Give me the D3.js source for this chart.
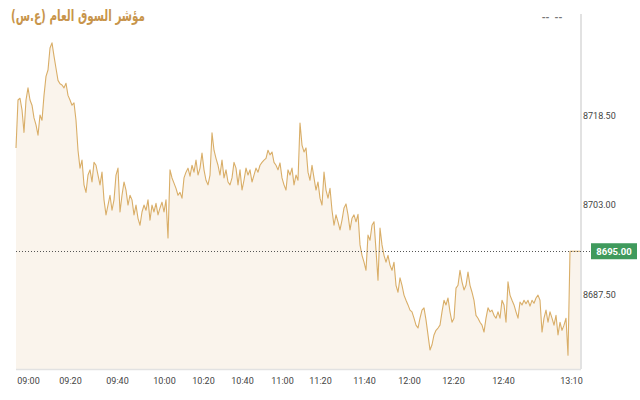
<!DOCTYPE html>
<html>
<head>
<meta charset="utf-8">
<script src="https://cdn.jsdelivr.net/npm/d3@7"></script>
<style>
  html, body { margin: 0; padding: 0; background: #ffffff; }
  svg { display: block; }
</style>
</head>
<body>
<svg id="chart" width="640" height="400"></svg>
<script>
// ---- data ----
const title = "مؤشر السوق العام (ع.س)";
const lastValue = 8695.00;
const yTickValues = [8687.5, 8703.0, 8718.5];
const xTickLabels = ["09:00","09:20","09:40","10:00","10:20","10:40","11:00","11:20","11:40","12:00","12:20","12:40","13:10"];
const xTickIndex = [6, 27, 50.5, 74, 93.5, 113, 133, 152, 174, 196.5, 218.5, 243.5, 277.5];
const indexValues = [
  8712.9,8721.2,8721.5,8719.5,8715.6,8721.2,8723.3,8721.2,8720.3,8718.1,
  8716.9,8715.1,8718.6,8717.7,8722.0,8725.3,8726.4,8730.2,8731.1,8728.8,
  8726.7,8724.6,8724.0,8723.8,8723.3,8724.1,8722.0,8721.2,8720.3,8720.7,
  8717.7,8712.5,8709.4,8710.8,8706.5,8705.2,8708.2,8709.1,8707.0,8710.4,
  8709.9,8708.2,8706.5,8708.7,8703.9,8701.3,8703.0,8704.7,8702.1,8703.9,
  8708.2,8709.4,8701.8,8704.7,8707.0,8705.6,8703.0,8704.7,8703.9,8701.3,
  8703.0,8700.7,8699.5,8701.8,8703.0,8702.1,8703.9,8700.4,8703.0,8701.8,
  8703.3,8701.3,8702.5,8703.5,8701.8,8703.9,8697.3,8709.1,8707.7,8706.8,
  8705.9,8704.7,8705.2,8704.2,8707.7,8708.7,8709.4,8708.0,8709.9,8708.7,
  8710.8,8708.2,8709.4,8712.0,8709.1,8707.3,8706.5,8708.2,8715.5,8712.5,
  8711.1,8709.9,8708.2,8710.8,8707.7,8709.1,8707.0,8706.5,8707.7,8710.4,
  8709.4,8706.5,8709.1,8705.6,8707.3,8709.4,8708.2,8709.1,8707.0,8708.2,
  8709.4,8708.7,8709.9,8710.4,8710.8,8711.1,8712.5,8711.7,8712.2,8710.4,
  8709.9,8709.1,8710.3,8707.7,8706.5,8705.6,8709.1,8708.2,8709.4,8706.5,
  8708.2,8707.3,8717.2,8713.4,8712.2,8712.9,8708.7,8707.3,8709.9,8707.7,
  8705.6,8707.0,8704.2,8703.0,8708.7,8705.6,8704.2,8705.9,8702.1,8699.5,
  8701.3,8700.1,8698.7,8700.4,8702.5,8703.2,8701.3,8698.7,8700.7,8701.3,
  8700.1,8701.4,8696.1,8694.3,8693.1,8691.7,8697.8,8696.9,8699.5,8700.1,
  8695.2,8690.0,8699.0,8696.1,8694.3,8693.1,8694.3,8692.6,8691.7,8693.1,
  8689.1,8687.9,8690.4,8689.1,8687.4,8686.5,8685.7,8684.8,8684.5,8683.4,
  8682.2,8681.7,8683.4,8684.8,8685.2,8683.1,8680.5,8677.9,8678.8,8680.5,
  8681.3,8681.7,8682.2,8684.5,8686.5,8685.7,8686.9,8684.5,8682.7,8683.4,
  8688.6,8689.1,8691.7,8689.7,8688.3,8689.1,8691.4,8689.1,8687.9,8686.5,
  8683.9,8683.4,8682.7,8682.2,8681.0,8683.4,8685.2,8684.5,8684.8,8683.9,
  8683.4,8684.5,8683.4,8686.5,8685.7,8682.7,8689.7,8687.4,8686.5,8685.7,
  8684.5,8683.4,8686.2,8685.7,8686.5,8685.9,8686.5,8685.5,8686.5,8686.0,
  8686.9,8687.4,8686.5,8681.0,8683.4,8684.8,8682.7,8684.5,8683.4,8682.2,
  8683.9,8680.5,8682.7,8681.3,8682.2,8683.4,8677.0,8695.0,8695.0,8695.0,
  8695.0,8695.0,8695.0
];

// ---- layout ----
const svg = d3.select("#chart");
const plot = { left: 16, right: 581, top: 14, bottom: 369 };

const x = d3.scaleLinear()
  .domain([0, indexValues.length - 1])
  .range([plot.left, plot.right - 1]);
const y = d3.scaleLinear()
  .domain([8674.6, 8736.1])
  .range([plot.bottom, plot.top]);

// area fill
const area = d3.area()
  .x((d, i) => x(i))
  .y0(plot.bottom)
  .y1(d => y(d));
svg.append("path")
  .datum(indexValues)
  .attr("d", area)
  .attr("fill", "#faf4ec");

// line
const line = d3.line()
  .x((d, i) => x(i))
  .y(d => y(d));
svg.append("path")
  .datum(indexValues)
  .attr("d", line)
  .attr("fill", "none")
  .attr("stroke", "#d9ae68")
  .attr("stroke-width", 1.1)
  .attr("stroke-linejoin", "round");

// frame lines
svg.append("line")
  .attr("x1", plot.right).attr("x2", plot.right)
  .attr("y1", plot.top).attr("y2", plot.bottom)
  .attr("stroke", "#cfcfcf").attr("stroke-width", 1.2);
svg.append("line")
  .attr("x1", plot.left).attr("x2", plot.right)
  .attr("y1", plot.bottom + 0.5).attr("y2", plot.bottom + 0.5)
  .attr("stroke", "#e2e2e2").attr("stroke-width", 1.5);

// last value dotted line
svg.append("line")
  .attr("x1", plot.left).attr("x2", 591)
  .attr("y1", Math.round(y(lastValue)) + 0.5).attr("y2", Math.round(y(lastValue)) + 0.5)
  .attr("stroke", "#555")
  .attr("stroke-width", 1)
  .attr("stroke-dasharray", "1,2");

// y axis (right)
const yAxis = d3.axisRight(y)
  .tickValues(yTickValues)
  .tickSize(0)
  .tickPadding(2)
  .tickFormat(d3.format(".2f"));
const gy = svg.append("g")
  .attr("transform", `translate(${plot.right},0)`)
  .call(yAxis);
gy.select(".domain").remove();
gy.selectAll("text")
  .attr("font-family", "Roboto, sans-serif")
  .attr("font-size", 9)
  .attr("fill", "#444");

// x axis
const xAxis = d3.axisBottom(x)
  .tickValues(xTickIndex)
  .tickSize(0)
  .tickPadding(9)
  .tickFormat((d, i) => xTickLabels[i]);
const gx = svg.append("g")
  .attr("transform", `translate(0,${plot.bottom})`)
  .call(xAxis);
gx.select(".domain").remove();
gx.selectAll("text")
  .attr("font-family", "Roboto, sans-serif")
  .attr("font-size", 9)
  .attr("fill", "#444");

// last value label
const ly = y(lastValue);
svg.append("rect")
  .attr("x", 591).attr("y", ly - 8)
  .attr("width", 46).attr("height", 16)
  .attr("fill", "#3f9a5c");
svg.append("text")
  .attr("x", 614).attr("y", ly)
  .attr("dy", "0.35em")
  .attr("text-anchor", "middle")
  .attr("font-family", "Roboto, sans-serif")
  .attr("font-weight", "bold")
  .attr("font-size", 9.5)
  .attr("fill", "#ffffff")
  .text(d3.format(".2f")(lastValue));

// title: fit into the box x 10..146
const titleG = svg.append("g");
const titleText = titleG.append("text")
  .attr("x", 0).attr("y", 21)
  .attr("direction", "rtl")
  .attr("font-family", "'DejaVu Sans', sans-serif")
  .attr("font-weight", "bold")
  .attr("font-size", 16)
  .attr("fill", "#c8954b")
  .attr("textLength", 134)
  .attr("lengthAdjust", "spacingAndGlyphs")
  .text(title);
const bb = titleText.node().getBBox();
titleG.attr("transform", `translate(${11 - bb.x},0)`);

// top-right placeholder
svg.append("text")
  .attr("x", 552).attr("y", 21)
  .attr("text-anchor", "middle")
  .attr("font-family", "Roboto, sans-serif")
  .attr("font-weight", "bold")
  .attr("font-size", 10)
  .attr("fill", "#777")
  .style("white-space", "pre")
  .text("--  --");
</script>
</body>
</html>
